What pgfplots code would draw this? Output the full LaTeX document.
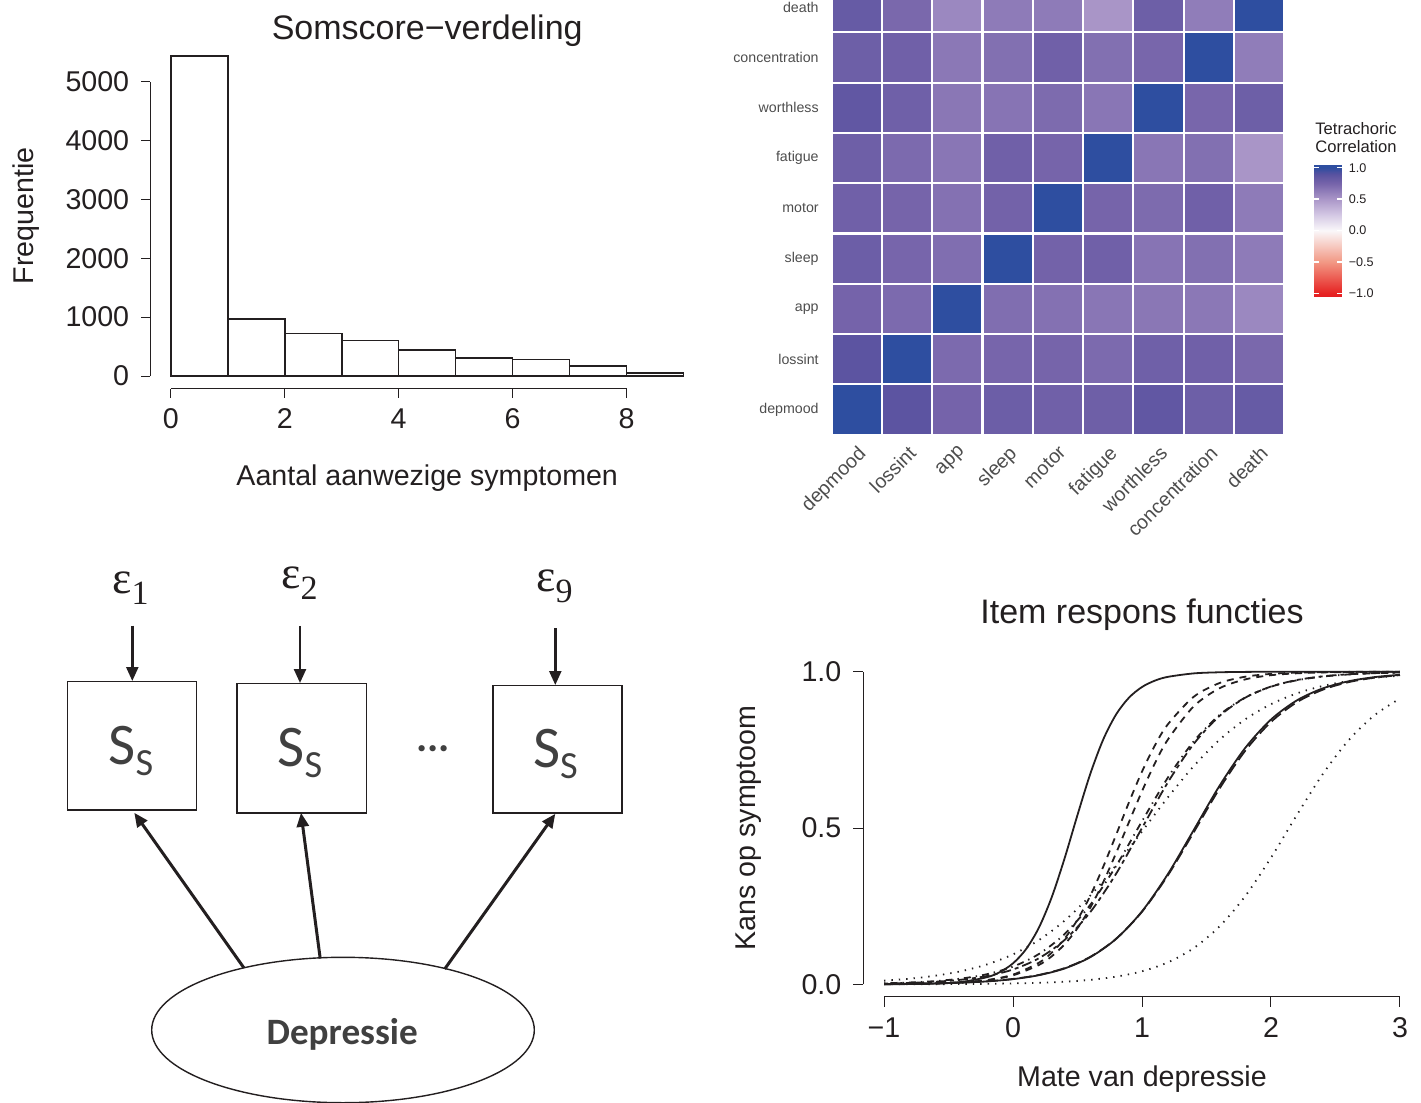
\documentclass[border=0pt]{standalone}
\usepackage{fontspec}
\setmainfont{Liberation Sans}
\newfontfamily\carlito{Carlito}
\newfontfamily\tnr{Liberation Serif}
\usepackage{pgfplots}
\pgfplotsset{compat=1.18}
\usetikzlibrary{arrows.meta}

\definecolor{ink}{RGB}{35,31,32}
\definecolor{diag}{RGB}{64,64,64}
\definecolor{ggtext}{RGB}{77,77,77}

% colour scale of the heatmap (positions = value+1.054, in pt*1000)
\pgfplotsset{
  colormap={tetra}{
    rgb255(0pt)=(228,28,32) rgb255(54pt)=(230,35,35) rgb255(554pt)=(242,152,132)
    rgb255(1054pt)=(250,248,250) rgb255(1304pt)=(212,200,228) rgb255(1554pt)=(170,150,200)
    rgb255(1804pt)=(118,100,170) rgb255(1954pt)=(88,82,160) rgb255(2054pt)=(46,78,160)
    rgb255(2108pt)=(46,78,160)},
  rstyle/.style={
    scale only axis, clip=false,
    axis line style={draw=none},
    axis x line*=bottom, axis y line*=left,
    tick align=outside, major tick length=4.5pt,
    tick style={ink, line width=0.5pt},
    ticklabel style={font=\fontsize{14.3}{16}\selectfont, text=ink},
    yticklabel style={xshift=-2.5pt},
    xticklabel style={yshift=-2pt},
  },
}

\begin{document}
\begin{tikzpicture}
\path[use as bounding box] (0,0) rectangle (710.5pt,-551.5pt);

% ---------- Somscore-verdeling ----------
\begin{axis}[rstyle,
    at={(75.1pt,-194.4pt)}, anchor=south west,
    width=277pt, height=172.8pt,
    xmin=-0.36, xmax=9.36, ymin=-217.5, ymax=5654.5,
    xtick={0,2,4,6,8}, xticklabels={0,2,4,6,8},
    ytick={0,1000,2000,3000,4000,5000},
    yticklabels={0,1000,2000,3000,4000,5000},
]
  \addplot[ybar interval, fill=white, draw=ink, line width=0.8pt] coordinates {
    (0,5437) (1,968) (2,725) (3,600) (4,437) (5,306) (6,277) (7,170) (8,56) (9,0)
  };
  \draw[ink, line width=0.5pt] (axis cs:0,-217.5) -- (axis cs:8,-217.5);
  \draw[ink, line width=0.5pt] (axis cs:-0.36,0) -- (axis cs:-0.36,5000);
\end{axis}
\node[anchor=base, ink, font=\fontsize{17}{19}\selectfont] at (213.6pt,-19.7pt) {Somscore−verdeling};
\node[anchor=base, ink, font=\fontsize{14.3}{16}\selectfont] at (213.6pt,-242.5pt) {Aantal aanwezige symptomen};
\node[anchor=base, rotate=90, ink, font=\fontsize{14.3}{16}\selectfont] at (16.5pt,-108pt) {Frequentie};

% ---------- heatmap ----------
\begin{axis}[
    at={(415.85pt,-217.35pt)}, anchor=south west,
    scale only axis, width=226.2pt, height=226.35pt,
    xmin=-0.5, xmax=8.5, ymin=-0.5, ymax=8.5,
    axis line style={draw=none}, major tick length=0pt,
    xtick={0,...,8}, ytick={0,...,8},
    xticklabels={depmood,lossint,app,sleep,motor,fatigue,worthless,concentration,death},
    yticklabels={depmood,lossint,app,sleep,motor,fatigue,worthless,concentration,death},
    xticklabel style={rotate=45, anchor=north east, font=\fontsize{9.8}{11}\selectfont, text=ggtext},
    yticklabel style={font=\fontsize{7.1}{8}\selectfont, text=ggtext, xshift=-3pt},
    colormap name=tetra,
    point meta min=-1.054, point meta max=1.054,
    colorbar,
    colorbar style={
      at={(648.5pt,-82.15pt)}, anchor=north west,
      scale only axis, width=13.85pt, height=66.2pt,
      axis line style={draw=none},
      ytick={-1,-0.5,0,0.5,1},
      yticklabels={−1.0,−0.5,0.0,0.5,1.0},
      yticklabel style={font=\fontsize{6.3}{7}\selectfont, text=ink},
      tick align=inside, major tick length=2.5pt,
      tick style={white, line width=0.6pt},
      ytick pos=both,
    },
]
  \addplot[scatter, only marks, mark=square*, mark size=12.3pt, line width=0.5pt,
    point meta=explicit,
    scatter/use mapped color={draw=white, fill=mapped color}]
    table[x=x, y=y, meta=v] {
x y v
0 0 1
1 0 0.88
2 0 0.755
3 0 0.80
4 0 0.78
5 0 0.79
6 0 0.855
7 0 0.795
8 0 0.828
0 1 0.88
1 1 1
2 1 0.72
3 1 0.745
4 1 0.75
5 1 0.72
6 1 0.785
7 1 0.78
8 1 0.73
0 2 0.755
1 2 0.72
2 2 1
3 2 0.70
4 2 0.685
5 2 0.66
6 2 0.655
7 2 0.65
8 2 0.57
0 3 0.80
1 3 0.745
2 3 0.70
3 3 1
4 3 0.765
5 3 0.78
6 3 0.67
7 3 0.69
8 3 0.635
0 4 0.78
1 4 0.75
2 4 0.685
3 4 0.765
4 4 1
5 4 0.75
6 4 0.715
7 4 0.78
8 4 0.633
0 5 0.79
1 5 0.72
2 5 0.66
3 5 0.78
4 5 0.75
5 5 1
6 5 0.658
7 5 0.69
8 5 0.505
0 6 0.855
1 6 0.785
2 6 0.655
3 6 0.67
4 6 0.715
5 6 0.658
6 6 1
7 6 0.74
8 6 0.795
0 7 0.795
1 7 0.78
2 7 0.65
3 7 0.69
4 7 0.78
5 7 0.69
6 7 0.74
7 7 1
8 7 0.625
0 8 0.828
1 8 0.73
2 8 0.57
3 8 0.635
4 8 0.633
5 8 0.505
6 8 0.795
7 8 0.625
8 8 1
};
\end{axis}
\node[anchor=base west, inner sep=0pt, ink, font=\fontsize{8.3}{9}\selectfont] at (657.5pt,-67pt) {Tetrachoric};
\node[anchor=base west, inner sep=0pt, ink, font=\fontsize{8.3}{9}\selectfont] at (657.5pt,-76pt) {Correlation};

% ---------- path diagram ----------
\begin{scope}[x=0.5pt, y=-0.5pt]
  \draw[ink, line width=0.7pt] (67.3,681.7) rectangle (196.7,810);
  \draw[ink, line width=0.7pt] (236.9,683.3) rectangle (366.3,812.8);
  \draw[ink, line width=0.7pt] (493,685.4) rectangle (622,812.8);
  \foreach \cx/\by in {131/764, 300/766, 555.5/767}{
    \node[anchor=base, inner sep=0pt, text=diag] at (\cx,\by)
      {\carlito\fontsize{29.5}{30}\selectfont S\raisebox{-5.5pt}{\fontsize{19.2}{20}\selectfont S}};
  }
  \node[anchor=base west, inner sep=0pt, text=ink] at (112,593)
    {\tnr\fontsize{23}{24}\selectfont ε\raisebox{-5.5pt}{\fontsize{17}{18}\selectfont 1}};
  \node[anchor=base west, inner sep=0pt, text=ink] at (281,588)
    {\tnr\fontsize{23}{24}\selectfont ε\raisebox{-5.5pt}{\fontsize{17}{18}\selectfont 2}};
  \node[anchor=base west, inner sep=0pt, text=ink] at (536,591)
    {\tnr\fontsize{23}{24}\selectfont ε\raisebox{-5.5pt}{\fontsize{17}{18}\selectfont 9}};
  \draw[ink, line width=1.2pt, -{Triangle[length=7pt, width=6pt]}] (132.3,625.7) -- (132.3,681);
  \draw[ink, line width=1.2pt, -{Triangle[length=7pt, width=6pt]}] (300,625.8) -- (300,683);
  \draw[ink, line width=1.2pt, -{Triangle[length=7pt, width=6pt]}] (555.3,628) -- (555.3,685);
  \node[anchor=base, inner sep=0pt, text=diag] at (433,751)
    {\carlito\bfseries\fontsize{21}{22}\selectfont ...};
  \draw[ink, line width=0.7pt] (343,1030) ellipse [x radius=95.65pt, y radius=36.35pt];
  \node[anchor=base, inner sep=0pt, text=diag] at (342.2,1044)
    {\carlito\bfseries\fontsize{18.6}{20}\selectfont Depressie};
  \draw[ink, line width=1.5pt, -{Triangle[length=7pt, width=6pt]}] (244,968) -- (134.3,812.8);
  \draw[ink, line width=1.5pt, -{Triangle[length=7pt, width=6pt]}] (320.2,958.5) -- (301,812.8);
  \draw[ink, line width=1.5pt, -{Triangle[length=7pt, width=6pt]}] (444.7,969) -- (555.3,813.8);
\end{scope}

% ---------- Item respons functies ----------
\begin{axis}[rstyle,
    at={(431.7pt,-498.4pt)}, anchor=south west,
    width=278.6pt, height=168.8pt,
    xmin=-1.16, xmax=3.16, ymin=-0.04, ymax=1.04,
    major tick length=5pt,
    xtick={-1,0,1,2,3}, xticklabels={−1,0,1,2,3},
    ytick={0,0.5,1}, yticklabels={0.0,0.5,1.0},
    every axis plot/.append style={ink, line width=0.9pt, smooth},
]
  % solid
  \addplot[solid] coordinates {(-1,0.0003) (-0.8,0.0008) (-0.6,0.0025) (-0.4,0.0076) (-0.2,0.0229) (-0.1,0.0395) (0,0.0671) (0.1,0.1118) (0.2,0.1807) (0.3,0.2785) (0.4,0.4032) (0.5,0.5419) (0.6,0.6744) (0.7,0.7838) (0.8,0.8639) (0.9,0.9174) (1,0.9511) (1.1,0.9715) (1.2,0.9835) (1.4,0.9946) (1.6,0.9982) (1.8,0.9994) (2,0.9998) (2.5,1) (3,1)};
  % dashed
  \addplot[dash pattern=on 3.5pt off 3pt] coordinates {(-1,0.0005) (-0.8,0.0011) (-0.6,0.0026) (-0.4,0.0059) (-0.2,0.0136) (0,0.0310) (0.2,0.0689) (0.3,0.1012) (0.4,0.1463) (0.5,0.2069) (0.6,0.2841) (0.7,0.3766) (0.8,0.4790) (0.9,0.5833) (1,0.6805) (1.1,0.7642) (1.2,0.8315) (1.4,0.9195) (1.6,0.9636) (1.8,0.9840) (2,0.9930) (2.2,0.9970) (2.4,0.9987) (2.6,0.9994) (2.8,0.9998) (3,0.9999)};
  % dotted
  \addplot[dash pattern=on 0.7pt off 3pt] coordinates {(-1,0.0116) (-0.8,0.0179) (-0.6,0.0276) (-0.4,0.0421) (-0.2,0.0639) (0,0.0958) (0.2,0.1413) (0.4,0.2036) (0.6,0.2841) (0.8,0.3813) (1,0.4890) (1.2,0.5977) (1.4,0.6976) (1.6,0.7818) (1.8,0.8476) (2,0.8962) (2.2,0.9306) (2.4,0.9542) (2.6,0.9700) (2.8,0.9805) (3,0.9873)};
  % dotdash
  \addplot[dash pattern=on 0.7pt off 2.5pt on 3.5pt off 2.5pt] coordinates {(-1,0.0033) (-0.8,0.0059) (-0.6,0.0104) (-0.4,0.0185) (-0.2,0.0325) (0,0.0566) (0.2,0.0968) (0.4,0.1607) (0.6,0.2548) (0.8,0.3792) (1,0.5217) (1.2,0.6609) (1.4,0.7768) (1.6,0.8614) (1.8,0.9174) (2,0.9520) (2.2,0.9725) (2.4,0.9844) (2.6,0.9912) (2.8,0.9951) (3,0.9972)};
  % longdash
  \addplot[dash pattern=on 6pt off 2.5pt] coordinates {(-1,0.0010) (-0.8,0.0018) (-0.6,0.0031) (-0.4,0.0056) (-0.2,0.0098) (0,0.0172) (0.2,0.0300) (0.4,0.0518) (0.6,0.0881) (0.8,0.1459) (1,0.2320) (1.2,0.3482) (1.4,0.4858) (1.6,0.6255) (1.8,0.7470) (2,0.8393) (2.2,0.9023) (2.4,0.9423) (2.6,0.9665) (2.8,0.9808) (3,0.9890)};
  % twodash
  \addplot[dash pattern=on 2pt off 2pt on 5pt off 2pt] coordinates {(-1,0.0025) (-0.8,0.0045) (-0.6,0.0082) (-0.4,0.0148) (-0.2,0.0266) (0,0.0474) (0.2,0.0832) (0.4,0.1419) (0.6,0.2315) (0.8,0.3543) (1,0.5) (1.2,0.6457) (1.4,0.7685) (1.6,0.8581) (1.8,0.9168) (2,0.9526) (2.2,0.9734) (2.4,0.9852) (2.6,0.9918) (2.8,0.9955) (3,0.9975)};
  % solid
  \addplot[solid] coordinates {(-1,0.0009) (-0.8,0.0016) (-0.6,0.0029) (-0.4,0.0052) (-0.2,0.0093) (0,0.0165) (0.2,0.0291) (0.4,0.0507) (0.6,0.0871) (0.8,0.1457) (1,0.2334) (1.2,0.3523) (1.4,0.4928) (1.6,0.6344) (1.8,0.7560) (2,0.8470) (2.2,0.9081) (2.4,0.9464) (2.6,0.9693) (2.8,0.9826) (3,0.9902)};
  % dashed
  \addplot[dash pattern=on 3.5pt off 3pt] coordinates {(-1,0.0005) (-0.8,0.0012) (-0.6,0.0027) (-0.4,0.0059) (-0.2,0.0131) (0,0.0288) (0.2,0.0618) (0.3,0.0895) (0.4,0.1279) (0.5,0.1795) (0.6,0.2460) (0.7,0.3274) (0.8,0.4207) (0.9,0.5200) (1,0.6177) (1.1,0.7068) (1.2,0.7825) (1.4,0.8889) (1.6,0.9469) (1.8,0.9754) (2,0.9888) (2.2,0.9949) (2.4,0.9977) (2.6,0.9990) (2.8,0.9995) (3,0.9998)};
  % dotted
  \addplot[dash pattern=on 0.7pt off 3pt] coordinates {(-1,0.0002) (-0.8,0.0003) (-0.6,0.0005) (-0.4,0.0009) (-0.2,0.0016) (0,0.0028) (0.2,0.0048) (0.4,0.0083) (0.6,0.0143) (0.8,0.0245) (1,0.0417) (1.2,0.0701) (1.4,0.1156) (1.6,0.1847) (1.8,0.2819) (2,0.4050) (2.2,0.5412) (2.4,0.6715) (2.6,0.7799) (2.8,0.8600) (3,0.9141)};
  \draw[ink, line width=0.5pt] (axis cs:-1,-0.04) -- (axis cs:3,-0.04);
  \draw[ink, line width=0.5pt] (axis cs:-1.16,0) -- (axis cs:-1.16,1);
\end{axis}
\node[anchor=base, ink, font=\fontsize{17}{19}\selectfont] at (571pt,-311.5pt) {Item respons functies};
\node[anchor=base, ink, font=\fontsize{14.3}{16}\selectfont] at (571pt,-543.3pt) {Mate van depressie};
\node[anchor=base, rotate=90, ink, font=\fontsize{14.3}{16}\selectfont] at (377.5pt,-414pt) {Kans op symptoom};
\end{tikzpicture}
\end{document}
